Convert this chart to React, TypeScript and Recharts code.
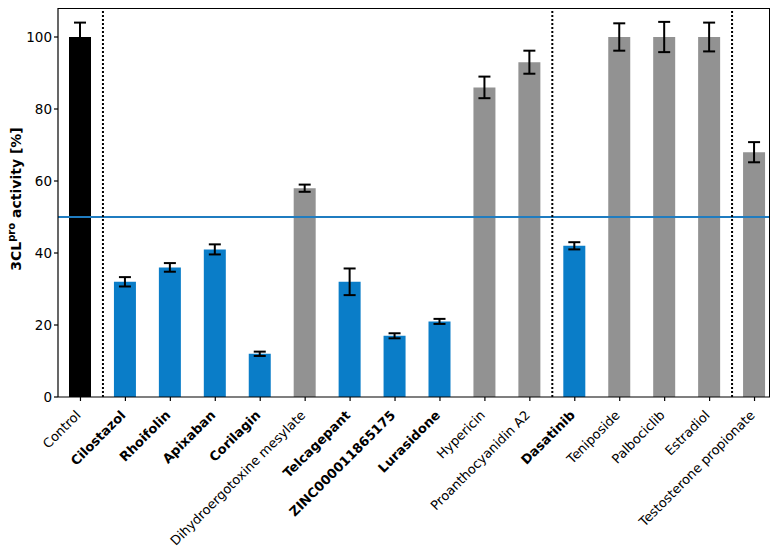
import { Bar, BarChart, Cell, ErrorBar, ReferenceLine, XAxis, YAxis } from "recharts";

const names = [
  "Control",
  "Cilostazol",
  "Rhoifolin",
  "Apixaban",
  "Corilagin",
  "Dihydroergotoxine mesylate",
  "Telcagepant",
  "ZINC000011865175",
  "Lurasidone",
  "Hypericin",
  "Proanthocyanidin A2",
  "Dasatinib",
  "Teniposide",
  "Palbociclib",
  "Estradiol",
  "Testosterone propionate",
];
const activity = [100, 32, 36, 41, 12, 58, 32, 17, 21, 86, 93, 42, 100, 100, 100, 68];
const errors = [4, 1.3, 1.2, 1.4, 0.6, 1, 3.7, 0.7, 0.7, 3, 3.2, 1, 3.8, 4.2, 4, 2.8];
const groups = ["control", "hit", "hit", "hit", "hit", "miss", "hit", "hit", "hit", "miss", "miss", "hit", "miss", "miss", "miss", "miss"];
const yTicks = [0, 20, 40, 60, 80, 100];
const separators = [0.5, 10.5, 14.5];

const xDomain: [number, number] = [-0.5, 15.5];
const yDomain: [number, number] = [0, 110];

const colors: Record<string, string> = {
  control: "#000000",
  hit: "#0a7dc8",
  miss: "#929292",
};

const data = names.map((name, i) => ({
  idx: i,
  name,
  value: activity[i],
  err: errors[i],
  group: groups[i],
}));

const font = "DejaVu Sans, sans-serif";

function NameTick(props: any) {
  const { x, y, payload } = props;
  const i = payload.value as number;
  const bold = groups[i] === "hit";
  const ax = x + 1;
  const ay = y + 13;
  return (
    <text
      x={ax}
      y={ay}
      textAnchor="end"
      transform={`rotate(-45, ${ax}, ${ay})`}
      fontFamily={font}
      fontSize={13}
      fontWeight={bold ? "bold" : "normal"}
      fill="#000"
    >
      {names[i]}
    </text>
  );
}

const axisLine = { stroke: "#000", strokeWidth: 1.2 };

// anything outside #root (the 8px body margin band) doesn't show up,
// so the top/right edges of the frame are drawn just inside it
const frameTop = 8;
const frameRight = 770;
const plotLeft = 58;
const plotBottom = 397;

export default function App() {
  return (
    <div style={{ position: "relative", width: 778, height: 558, margin: -8 }}>
      <BarChart
        width={778}
        height={558}
        data={data}
        margin={{ top: 1, right: 1, left: 0, bottom: 0 }}
      >
        <XAxis
          dataKey="idx"
          type="number"
          domain={xDomain}
          ticks={names.map((_, i) => i)}
          interval={0}
          height={161}
          tick={<NameTick />}
          tickSize={4}
          tickLine={axisLine}
          axisLine={axisLine}
        />
        <YAxis
          type="number"
          domain={yDomain}
          ticks={yTicks}
          width={plotLeft}
          tickSize={4}
          tick={{ fill: "#000", fontSize: 13.5, fontFamily: font }}
          tickLine={axisLine}
          axisLine={axisLine}
        />
        <Bar dataKey="value" barSize={22} isAnimationActive={false}>
          {data.map((d) => (
            <Cell key={d.name} fill={colors[d.group]} />
          ))}
          <ErrorBar dataKey="err" width={6} stroke="#000" strokeWidth={2} direction="y" />
        </Bar>
        <ReferenceLine y={50} stroke="#1f7cc0" strokeWidth={2} />
        {separators.map((s) => (
          <ReferenceLine key={s} x={s} stroke="#000" strokeWidth={2} strokeDasharray="2 2" />
        ))}
      </BarChart>
      <div
        style={{
          position: "absolute",
          left: plotLeft,
          top: frameTop,
          width: frameRight - plotLeft,
          height: plotBottom - frameTop,
          borderTop: "1.2px solid #000",
          borderRight: "1.2px solid #000",
          boxSizing: "border-box",
          pointerEvents: "none",
        }}
      />
      <div
        style={{
          position: "absolute",
          left: 16,
          top: 199,
          transform: "translate(-50%, -50%) rotate(-90deg)",
          whiteSpace: "nowrap",
          fontFamily: font,
          fontSize: 14,
          fontWeight: "bold",
          lineHeight: "16px",
        }}
      >
        3CL<sup style={{ fontSize: 10, lineHeight: 0 }}>pro</sup> activity [%]
      </div>
    </div>
  );
}
